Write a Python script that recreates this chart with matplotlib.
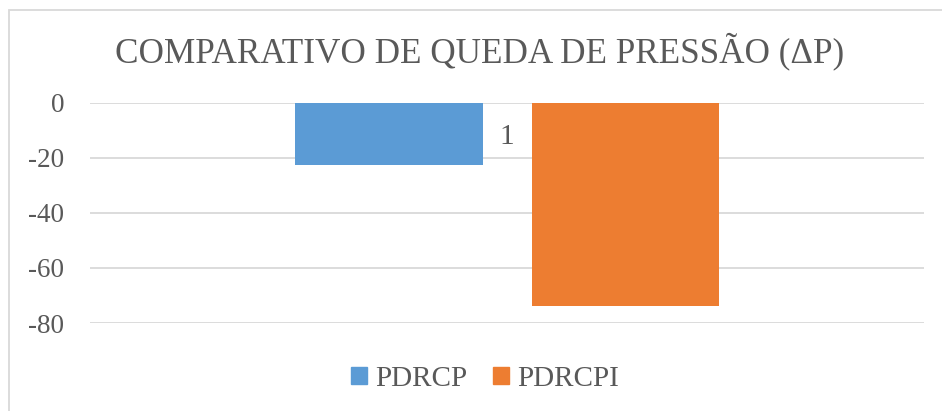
import matplotlib
matplotlib.use("Agg")
import matplotlib.pyplot as plt
from matplotlib.patches import Rectangle

# Data
categories = ["1"]
series_names = ["PDRCP", "PDRCPI"]
series_values = [-22.6, -74.0]
series_colors = ["#5B9BD5", "#ED7D31"]
y_ticks = [0, -20, -40, -60, -80]
title = "COMPARATIVO DE QUEDA DE PRESSÃO (ΔP)"

plt.rcParams["font.family"] = ["Liberation Serif", "DejaVu Serif"]
text_color = "#595959"

W, H = 942, 411
fig = plt.figure(figsize=(W / 100, H / 100), dpi=100)

# Outer chart border
fig.patches.append(Rectangle((8.5 / W, -0.1), 1.1, 1 - 9.5 / H + 0.1,
                             transform=fig.transFigure, fill=False,
                             edgecolor="#D9D9D9", linewidth=1.3))

ax = fig.add_axes([90 / W, 1 - 323 / H, (924 - 90) / W, (323 - 102.5) / H])

bar_width = 0.2245
offsets = [-0.1415, 0.1425]
for name, val, col, off in zip(series_names, series_values, series_colors, offsets):
    ax.bar(0 + off, val, width=bar_width, color=col, label=name, zorder=3)

ax.set_xlim(-0.5, 0.5)
ax.set_ylim(-80, 0)
ax.set_yticks(y_ticks)
ax.set_yticklabels([str(t) for t in y_ticks], fontsize=19.5, color=text_color)
ax.tick_params(axis="y", length=0, pad=18.5)
ax.set_xticks([])
ax.yaxis.grid(True, color="#D9D9D9", linewidth=1.3, zorder=0)
ax.set_axisbelow(True)
for s in ax.spines.values():
    s.set_visible(False)

# Category label sits below the zero line
ax.annotate(categories[0], xy=(0, 0), xytext=(0, -24.5), textcoords="offset points",
            ha="center", va="center", fontsize=21, color=text_color)

fig.text(480 / W, 1 - 62.5 / H, title, ha="center", va="baseline",
         fontsize=25.3, color=text_color)

handles = [Rectangle((0, 0), 1, 1, color=c) for c in series_colors]
fig.legend(handles, series_names, loc="center", bbox_to_anchor=(485 / W, 1 - 379 / H),
           ncol=2, frameon=False, fontsize=21, labelcolor=text_color,
           handlelength=0.55, handleheight=0.55, handletextpad=0.28, columnspacing=0.9)

fig.savefig("out.png", dpi=100)
